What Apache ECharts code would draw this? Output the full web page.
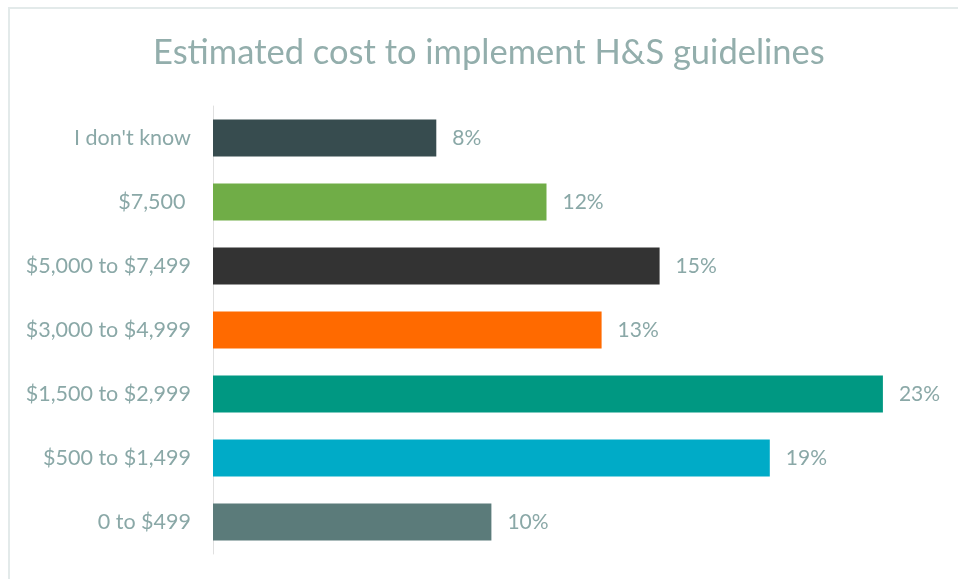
<!DOCTYPE html>
<html>
<head>
<meta charset="utf-8">
<script src="https://cdn.jsdelivr.net/npm/echarts@6/dist/echarts.min.js"></script>
<style>
  html, body { margin: 0; padding: 0; background: #ffffff; }
  .frame {
    position: absolute;
    left: 8px;
    top: 7px;
    width: 1000px;
    height: 700px;
    border-left: 2px solid #e3eaea;
    border-top: 2px solid #e3eaea;
    box-sizing: border-box;
  }
  #chart { position: absolute; left: 0; top: 0; width: 958px; height: 579px; }
</style>
</head>
<body>
<div class="frame"></div>
<div id="chart"></div>
<script>
// categories listed bottom to top (ECharts category axis order)
const categories = ["0 to $499", "$500 to $1,499", "$1,500 to $2,999", "$3,000 to $4,999", "$5,000 to $7,499", "$7,500 ", "I don't know"];
// share of respondents, %
const shares = [9.6, 19.2, 23.1, 13.4, 15.4, 11.5, 7.7];
const barColors = ["#5b7b7a", "#00abc7", "#009882", "#ff6a00", "#333333", "#70ad47", "#374c4f"];

const textColor = "#8aa8a7";
const myChart = echarts.init(document.getElementById("chart"));

const options = {
  animation: false,
  title: {
    text: "Estimated cost to implement H&S guidelines",
    left: 148,
    top: 30,
    textStyle: {
      color: "#93aeac",
      fontFamily: "Lato",
      fontWeight: "normal",
      fontSize: 34.5
    }
  },
  grid: {
    left: 213,
    right: 20,
    top: 106,
    bottom: 25
  },
  xAxis: {
    type: "value",
    min: 0,
    max: 25,
    show: false
  },
  yAxis: {
    type: "category",
    data: categories,
    axisLine: { show: true, lineStyle: { color: "#e0e0e0", width: 1 } },
    axisTick: { show: false },
    axisLabel: {
      color: textColor,
      fontFamily: "Lato",
      fontSize: 21.5,
      margin: 22
    }
  },
  series: [
    {
      type: "bar",
      barWidth: 37,
      data: shares.map((v, i) => ({ value: v, itemStyle: { color: barColors[i] } })),
      label: {
        show: true,
        position: "right",
        distance: 16,
        color: textColor,
        fontFamily: "Lato",
        fontSize: 21,
        formatter: p => Math.round(p.value) + "%"
      }
    }
  ]
};
myChart.setOption(options);
</script>
</body>
</html>
